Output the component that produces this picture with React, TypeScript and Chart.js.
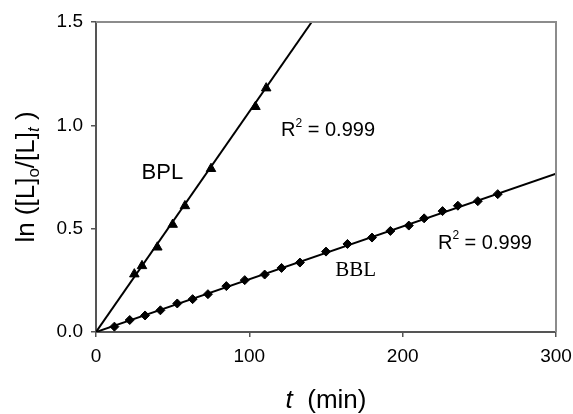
import React, { useEffect, useRef } from "react";
import { Chart, registerables } from "chart.js";

Chart.register(...registerables);

// BPL measured points (t in min, ln([L]o/[L]t))
const bplT = [25, 30, 40, 50, 58, 75, 104, 111];
const bplY = [0.28, 0.32, 0.41, 0.52, 0.61, 0.79, 1.09, 1.18];
// BBL measured points
const bblT = [12, 22, 32, 42, 53, 63, 73, 85, 97, 110, 121, 133, 150, 164, 180, 192, 204, 214, 226, 236, 249, 262];
const bblY = [0.026, 0.058, 0.08, 0.105, 0.138, 0.159, 0.183, 0.222, 0.251, 0.278, 0.31, 0.336, 0.389, 0.426, 0.457, 0.489, 0.515, 0.55, 0.585, 0.611, 0.633, 0.667];
// Linear fits through the origin
const bplFitT = [0, 140.7];
const bplFitY = [0, 1.5];
const bblFitT = [0, 300];
const bblFitY = [0, 0.766];
// Axis ticks
const xTicks = [0, 100, 200, 300];
const yTicks = [0, 0.5, 1.0, 1.5];
// Annotation texts
const bplLabel = "BPL";
const bblLabel = "BBL";
const r2Text = "0.999";

const SANS = "'Liberation Sans', Arial, Helvetica, sans-serif";
const SERIF = "'Liberation Serif', 'Times New Roman', serif";

const toPts = (xs: number[], ys: number[]) => xs.map((x, i) => ({ x, y: ys[i] }));

const annotPlugin = {
  id: "annot",
  afterDraw(chart: any) {
    const ctx = chart.ctx as CanvasRenderingContext2D;
    const xs = chart.scales.x;
    const ys = chart.scales.y;
    const a = chart.chartArea;
    ctx.save();
    // top / right frame
    ctx.strokeStyle = "#8c8c8c";
    ctx.lineWidth = 2;
    ctx.beginPath();
    ctx.moveTo(a.left, a.top);
    ctx.lineTo(a.right, a.top);
    ctx.lineTo(a.right, a.bottom);
    ctx.stroke();

    ctx.fillStyle = "#000";
    ctx.textBaseline = "middle";
    ctx.textAlign = "left";

    // BPL
    ctx.font = `22px ${SANS}`;
    ctx.fillText(bplLabel, xs.getPixelForValue(29.7), ys.getPixelForValue(0.77));
    // BBL (serif)
    ctx.font = `21px ${SERIF}`;
    ctx.fillText(bblLabel, xs.getPixelForValue(156), ys.getPixelForValue(0.297));

    const drawR2 = (tx: number, vy: number) => {
      let x = xs.getPixelForValue(tx);
      const y = ys.getPixelForValue(vy);
      ctx.font = `20px ${SANS}`;
      ctx.fillText("R", x, y);
      x += ctx.measureText("R").width;
      ctx.font = `12px ${SANS}`;
      ctx.fillText("2", x, y - 7);
      x += ctx.measureText("2").width;
      ctx.font = `20px ${SANS}`;
      ctx.fillText(" = " + r2Text, x, y);
    };
    drawR2(120.7, 0.975);
    drawR2(223, 0.43);

    // x title: t (min)
    ctx.textBaseline = "alphabetic";
    const xt1 = "t";
    const xt2 = "  (min)";
    ctx.font = `italic 26px ${SANS}`;
    const w1 = ctx.measureText(xt1).width;
    ctx.font = `26px ${SANS}`;
    const w2 = ctx.measureText(xt2).width;
    const cx = (a.left + a.right) / 2;
    const sx = cx - (w1 + w2) / 2;
    ctx.font = `italic 26px ${SANS}`;
    ctx.fillText(xt1, sx, 408);
    ctx.font = `26px ${SANS}`;
    ctx.fillText(xt2, sx + w1, 408);

    // y title: ln ([L]o/[L]t)
    const parts: { t: string; f: string; dy: number }[] = [
      { t: "ln ([L]", f: `26px ${SANS}`, dy: 0 },
      { t: "o", f: `17px ${SANS}`, dy: 5 },
      { t: "/[L]", f: `26px ${SANS}`, dy: 0 },
      { t: "t", f: `italic 17px ${SANS}`, dy: 5 },
      { t: " )", f: `26px ${SANS}`, dy: 0 },
    ];
    let total = 0;
    for (const p of parts) {
      ctx.font = p.f;
      total += ctx.measureText(p.t).width;
    }
    ctx.translate(34, (a.top + a.bottom) / 2);
    ctx.rotate(-Math.PI / 2);
    let px = -total / 2;
    for (const p of parts) {
      ctx.font = p.f;
      ctx.fillText(p.t, px, p.dy);
      px += ctx.measureText(p.t).width;
    }
    ctx.restore();
  },
};

export default function App() {
  const ref = useRef<HTMLCanvasElement | null>(null);
  useEffect(() => {
    document.body.style.margin = "0";
    const canvas = ref.current!;
    const chart = new Chart(canvas, {
      type: "scatter",
      data: {
        datasets: [
          {
            label: "BPL fit",
            data: toPts(bplFitT, bplFitY),
            showLine: true,
            borderColor: "#000",
            borderWidth: 2,
            pointRadius: 0,
            fill: false,
          },
          {
            label: "BBL fit",
            data: toPts(bblFitT, bblFitY),
            showLine: true,
            borderColor: "#000",
            borderWidth: 2,
            pointRadius: 0,
            fill: false,
          },
          {
            label: "BPL",
            data: toPts(bplT, bplY),
            pointStyle: "triangle",
            pointRadius: 5.5,
            backgroundColor: "#000",
            borderColor: "#000",
            borderWidth: 1,
          },
          {
            label: "BBL",
            data: toPts(bblT, bblY),
            pointStyle: "rectRot",
            pointRadius: 4.5,
            backgroundColor: "#000",
            borderColor: "#000",
            borderWidth: 1,
          },
        ],
      },
      options: {
        responsive: false,
        animation: false,
        events: [],
        layout: { padding: { left: 0, top: 22, right: 17, bottom: 0 } },
        plugins: { legend: { display: false }, tooltip: { enabled: false } },
        scales: {
          x: {
            type: "linear",
            min: 0,
            max: 300,
            afterBuildTicks: (s: any) => {
              s.ticks = xTicks.map((v) => ({ value: v }));
            },
            afterFit: (s: any) => {
              s.height = 82;
              s.paddingLeft = 0;
              s.paddingRight = 0;
            },
            ticks: {
              color: "#000",
              font: { family: SANS, size: 19 },
              padding: 8,
              maxRotation: 0,
            },
            grid: {
              drawOnChartArea: false,
              drawTicks: true,
              tickLength: 5,
              color: "#555",
              lineWidth: 1.5,
            },
            border: { color: "#555", width: 2 },
          },
          y: {
            type: "linear",
            min: 0,
            max: 1.5,
            afterBuildTicks: (s: any) => {
              s.ticks = yTicks.map((v) => ({ value: v }));
            },
            afterFit: (s: any) => {
              s.width = 96;
              s.paddingTop = 0;
              s.paddingBottom = 0;
            },
            ticks: {
              color: "#000",
              font: { family: SANS, size: 19 },
              padding: 8,
              callback: (v: any) => Number(v).toFixed(1),
            },
            grid: {
              drawOnChartArea: false,
              drawTicks: true,
              tickLength: 5,
              color: "#555",
              lineWidth: 1.5,
            },
            border: { color: "#555", width: 2 },
          },
        },
      },
      plugins: [annotPlugin],
    });
    return () => chart.destroy();
  }, []);
  return <canvas ref={ref} width={573} height={414} style={{ display: "block" }} />;
}
